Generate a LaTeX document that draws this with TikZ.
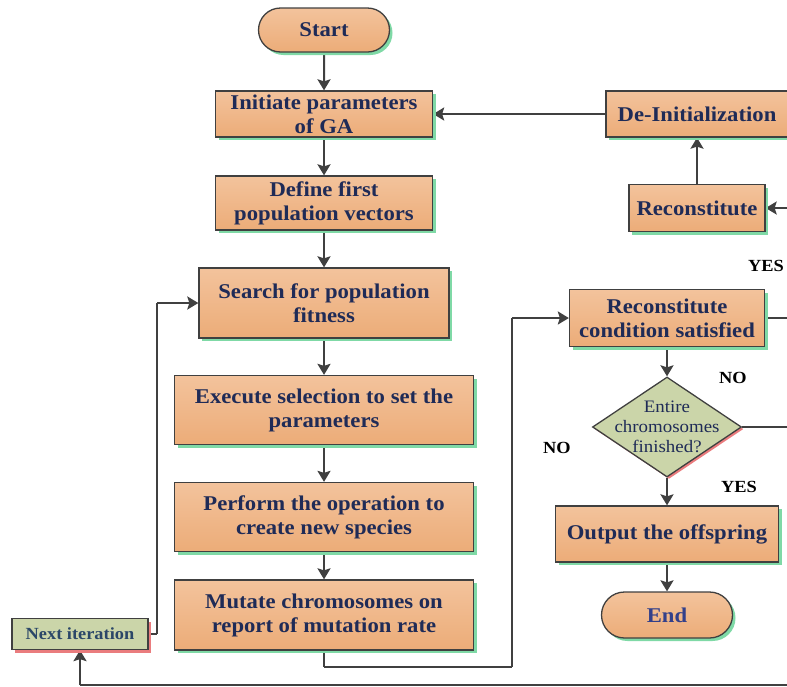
\documentclass[tikz,border=0pt]{standalone}
\usepackage{fontspec}
\setmainfont{Liberation Serif}[FakeStretch=1.08]
\usepackage{tikz}
\usetikzlibrary{shapes,shapes.geometric,shapes.misc,shadows,arrows.meta}
\pgfdeclarelayer{edgelayer}
\pgfdeclarelayer{nodelayer}
\pgfsetlayers{edgelayer,nodelayer,main}
\definecolor{ltop}{HTML}{F3C39C}
\definecolor{lbot}{HTML}{ECAC78}
\definecolor{lgreen}{HTML}{7FD9A6}
\definecolor{lsage}{HTML}{CBD5A9}
\definecolor{lred}{HTML}{EA7C7E}
\definecolor{lnavy}{HTML}{1F2B57}
\definecolor{lblue}{HTML}{33408A}
\definecolor{lslate}{HTML}{2B4768}
\definecolor{lline}{HTML}{404040}
\tikzstyle{none}=[inner sep=0pt]
\tikzstyle{process}=[rectangle,top color=ltop,bottom color=lbot,draw=lline,line width=1.3,text=lnavy,align=center,inner sep=2pt,font=\fontsize{21}{24}\selectfont\bfseries,drop shadow={shadow xshift=3pt,shadow yshift=-3pt,fill=lgreen,opacity=1}]
\tikzstyle{terminal}=[style=process,rounded rectangle]
\tikzstyle{decision}=[diamond,fill=lsage,draw=lline,line width=1.3,inner sep=0pt,drop shadow={shadow xshift=2pt,shadow yshift=-2pt,fill=lred,opacity=1}]
\tikzstyle{decisiontext}=[align=center,text=lnavy,font=\fontsize{17.5}{20}\selectfont]
\tikzstyle{iteration}=[rectangle,fill=lsage,draw=lline,line width=1.3,text=lslate,font=\fontsize{17}{20}\selectfont\bfseries,drop shadow={shadow xshift=3pt,shadow yshift=-3pt,fill=lred,opacity=1}]
\tikzstyle{answer}=[inner sep=0pt,font=\fontsize{17}{20}\selectfont\bfseries]
\tikzstyle{inarrow}=[-{Stealth[length=11pt,width=13pt,inset=2pt]},draw=lline,line width=2]
\tikzstyle{simple}=[-,draw=lline,line width=2]

\begin{document}
\begin{tikzpicture}[x=1pt,y=-1pt]
	\useasboundingbox (0,0) rectangle (787,686);
	\begin{pgfonlayer}{nodelayer}
		\node [style=terminal, minimum width=135, minimum height=44] (0) at (324, 30) {Start};
		\node [style=process, minimum width=217, minimum height=46] (1) at (324, 114) {Initiate parameters\\of GA};
		\node [style=process, minimum width=217, minimum height=54] (2) at (324, 203) {Define first\\population vectors};
		\node [style=process, minimum width=250, minimum height=70] (3) at (324, 303) {Search for population\\fitness};
		\node [style=process, minimum width=299, minimum height=69] (4) at (324, 410) {Execute selection to set the\\parameters};
		\node [style=process, minimum width=299, minimum height=69] (5) at (324, 517) {Perform the operation to\\create new species};
		\node [style=process, minimum width=299, minimum height=70] (6) at (324, 615) {Mutate chromosomes on\\report of mutation rate};
		\node [style=iteration, minimum width=136, minimum height=31] (7) at (80, 634) {Next iteration};
		\node [style=process, minimum width=195, minimum height=57] (8) at (667, 318) {Reconstitute\\condition satisfied};
		\node [style=decision, minimum width=149, minimum height=100, label={[style=decisiontext]center:Entire\\chromosomes\\finished?}] (9) at (667, 427) {};
		\node [style=process, minimum width=223, minimum height=56] (10) at (667, 534) {Output the offspring};
		\node [style=terminal, minimum width=135, minimum height=46, text=lblue] (11) at (667, 615) {End};
		\node [style=process, minimum width=182, minimum height=46] (12) at (697, 114) {De-Initialization};
		\node [style=process, minimum width=136, minimum height=47] (13) at (697, 208) {Reconstitute};
		\node [style=none] (14) at (157, 634) {};
		\node [style=none] (15) at (157, 303) {};
		\node [style=none] (16) at (324, 667) {};
		\node [style=none] (17) at (512, 667) {};
		\node [style=none] (18) at (512, 318) {};
		\node [style=none] (19) at (800, 318) {};
		\node [style=none] (20) at (800, 208) {};
		\node [style=none] (21) at (800, 427) {};
		\node [style=none] (22) at (800, 685) {};
		\node [style=none] (23) at (80, 685) {};
		\node [style=answer] (24) at (766, 266) {YES};
		\node [style=answer] (25) at (733, 378) {NO};
		\node [style=answer] (26) at (557, 448) {NO};
		\node [style=answer] (27) at (739, 487) {YES};
	\end{pgfonlayer}
	\begin{pgfonlayer}{edgelayer}
		\draw [style=inarrow] (0) to (1);
		\draw [style=inarrow] (1) to (2);
		\draw [style=inarrow] (2) to (3);
		\draw [style=inarrow] (3) to (4);
		\draw [style=inarrow] (4) to (5);
		\draw [style=inarrow] (5) to (6);
		\draw [style=simple] (6) to (16.center);
		\draw [style=simple] (16.center) to (17.center);
		\draw [style=simple] (17.center) to (18.center);
		\draw [style=inarrow] (18.center) to (8);
		\draw [style=simple] (7) to (14.center);
		\draw [style=simple] (14.center) to (15.center);
		\draw [style=inarrow] (15.center) to (3);
		\draw [style=inarrow] (8) to (9);
		\draw [style=inarrow] (9) to (10);
		\draw [style=inarrow] (10) to (11);
		\draw [style=simple] (8) to (19.center);
		\draw [style=simple] (19.center) to (20.center);
		\draw [style=inarrow] (20.center) to (13);
		\draw [style=inarrow] (13) to (12);
		\draw [style=inarrow] (12) to (1);
		\draw [style=simple] (9) to (21.center);
		\draw [style=simple] (21.center) to (22.center);
		\draw [style=simple] (22.center) to (23.center);
		\draw [style=inarrow] (23.center) to (7);
	\end{pgfonlayer}
\end{tikzpicture}
\end{document}
